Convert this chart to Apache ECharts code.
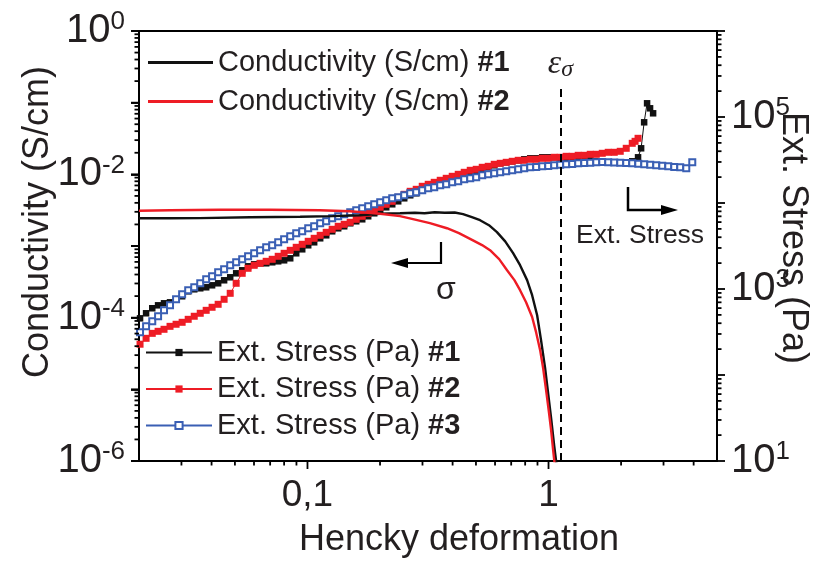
<!DOCTYPE html>
<html>
<head>
<meta charset="utf-8">
<script src="https://cdn.jsdelivr.net/npm/echarts@6/dist/echarts.min.js"></script>
<style>
  html, body { margin: 0; padding: 0; background: #fff; }
  #chart { width: 837px; height: 563px; }
</style>
</head>
<body>
<div id="chart"></div>
<script>
// ---- Axis ranges ----
const X_MIN = 0.02, X_MAX = 5;          // Hencky deformation (log)
const C_MIN = 1e-6, C_MAX = 1;          // Conductivity, S/cm (log)
const S_MIN = 10, S_MAX = 1e6;          // Extensional stress, Pa (log)

// ---- Conductivity #1 ----
const condStrain1 = [0.020, 0.0269, 0.0358, 0.0578, 0.0932, 0.127, 0.165, 0.200, 0.242, 0.279,
  0.306, 0.337, 0.371, 0.408, 0.442, 0.481, 0.520, 0.566, 0.611, 0.661,
  0.713, 0.762, 0.815, 0.855, 0.897, 0.931, 0.968, 0.995, 1.025, 1.055, 1.075, 1.096];
const condValues1 = [2.44e-3, 2.44e-3, 2.45e-3, 2.52e-3, 2.56e-3, 2.61e-3, 2.69e-3, 2.82e-3, 2.87e-3, 2.91e-3,
  2.87e-3, 2.96e-3, 2.91e-3, 2.93e-3, 2.78e-3, 2.52e-3, 2.29e-3, 1.95e-3, 1.56e-3, 1.16e-3,
  7.95e-4, 5.40e-4, 3.34e-4, 2.06e-4, 1.08e-4, 4.85e-5, 1.97e-5, 9.14e-6, 3.97e-6, 1.67e-6, 1.0e-6, 6.4e-7];

// ---- Conductivity #2 ----
const condStrain2 = [0.020, 0.0269, 0.0434, 0.0698, 0.1125, 0.150, 0.200, 0.242, 0.274, 0.322,
  0.379, 0.425, 0.486, 0.530, 0.572, 0.624, 0.673, 0.722, 0.762, 0.807,
  0.855, 0.888, 0.923, 0.950, 0.977, 1.005, 1.025, 1.045, 1.065];
const condValues2 = [3.11e-3, 3.16e-3, 3.21e-3, 3.21e-3, 3.16e-3, 3.06e-3, 2.82e-3, 2.61e-3, 2.37e-3, 2.08e-3,
  1.77e-3, 1.51e-3, 1.20e-3, 1.03e-3, 8.73e-4, 6.55e-4, 4.59e-4, 3.34e-4, 2.42e-4, 1.64e-4,
  1.02e-4, 6.28e-5, 3.52e-5, 1.97e-5, 9.75e-6, 4.66e-6, 2.70e-6, 1.42e-6, 7.9e-7];

// ---- Stress measurements: shared strain sampling ----
const stressStrain = [0.0202, 0.0214, 0.0227, 0.0240, 0.0254, 0.0269, 0.0285, 0.0302, 0.0320, 0.0339,
  0.0359, 0.0380, 0.0402, 0.0426, 0.0451, 0.0478, 0.0506, 0.0536, 0.0567, 0.0601,
  0.0636, 0.0674, 0.0714, 0.0756, 0.0800, 0.0848, 0.0898, 0.0951, 0.1007, 0.1066,
  0.1129, 0.1196, 0.1266, 0.1341, 0.1420, 0.1504, 0.1593, 0.1687, 0.1786, 0.1892,
  0.2003, 0.2122, 0.2247, 0.2379, 0.2520, 0.2668, 0.2826, 0.2993, 0.3169, 0.3356,
  0.3554, 0.3764, 0.3986, 0.4221, 0.4470, 0.4734, 0.5013, 0.5309, 0.5622, 0.5954,
  0.6305, 0.6677, 0.7071, 0.7488, 0.7930, 0.8398, 0.8893, 0.9418, 0.9973, 1.056,
  1.118, 1.184, 1.254, 1.328, 1.407, 1.490, 1.578, 1.671, 1.769, 1.874,
  1.984, 2.101, 2.225, 2.357, 2.496, 2.643, 2.799, 2.964, 3.139, 3.324,
  3.520, 3.728, 3.948];

// Ext. Stress #1 (Pa)
const stress1 = [456, 522, 597, 646, 682, 700, 759, 823, 940, 992,
  1019, 1047, 1104, 1165, 1263, 1368, 1522, 1650, 1837, 1937,
  1990, 1990, 2044, 2099, 2156, 2275, 2601, 2894, 3222, 3492,
  3886, 4210, 4687, 5079, 5358, 5807, 6127, 6464, 7006, 7590,
  8226, 8913, 9658, 10460, 11340, 12290, 12970, 14050, 14830, 16060,
  16950, 17880, 18860, 19900, 20990, 22140, 23370, 24650, 26010, 27440,
  28950, 29740, 30540, 31370, 32230, 33090, 33090, 33990, 33990, 33990,
  33090, 33090, 32230, 32230, 31370, 31370, 30540, 30540, 29740, 29740,
  29740, 29740, 30540];
const stress1TailStrain = [2.352, 2.422, 2.493, 2.564, 2.638, 2.716];
const stress1Tail = [33990, 43250, 86780, 144300, 126200, 110400];

// Ext. Stress #2 (Pa)
const stress2 = [228, 267, 305, 322, 340, 368, 389, 410, 444, 482,
  522, 565, 613, 664, 759, 891, 1165, 1522, 1741, 1886,
  1990, 2099, 2215, 2400, 2601, 2818, 3054, 3310, 3587, 3886,
  4210, 4563, 4945, 5358, 5653, 5965, 6464, 7006, 7590, 8226,
  8913, 9658, 10460, 11650, 12620, 13680, 14430, 15640, 16500, 17400,
  18370, 19370, 20440, 21560, 22750, 24000, 24650, 26010, 26710, 28180,
  28950, 29740, 30540, 31370, 31370, 32230, 32230, 33090, 33090, 33990,
  33990, 34910, 34910, 35860, 35860, 36840, 36840, 37840, 38870, 38870,
  39920, 43250, 49440];
const stress2TailStrain = [2.286, 2.352];
const stress2Tail = [52160, 56530];

// Ext. Stress #3 (Pa)
const stress3 = [314, 368, 421, 482, 565, 646, 759, 868, 966, 1047,
  1165, 1297, 1405, 1564, 1695, 1886, 2044, 2215, 2400, 2601,
  2818, 3054, 3222, 3492, 3784, 4100, 4443, 4687, 5079, 5358,
  5807, 6127, 6641, 7006, 7391, 7797, 8226, 8678, 9155, 9658,
  10190, 10750, 11340, 11650, 12290, 12970, 13320, 14050, 14830, 15220,
  16060, 16500, 17400, 17880, 18860, 19370, 19900, 20990, 21560, 22140,
  22750, 23370, 24000, 24650, 25320, 26010, 26300, 26710, 27000, 27440,
  27800, 28180, 28500, 28950, 29200, 29400, 29740, 29900, 29740, 29600,
  29400, 29100, 28950, 28600, 28180, 27900, 27440, 27100, 26710, 26300,
  26010, 25320, 29740];

// Marker line: strain at which the conductivity vanishes
const epsSigma = 1.12;
const epsSigmaTop = 0.175;

// Tick label text
const xTickLabels = { '-1': '0,1', '0': '1' };

// ---- Styling ----
const FONT = "'Liberation Sans', Arial, Helvetica, sans-serif";
const SERIF = "'Liberation Serif', 'Times New Roman', serif";
const INK = '#231f20';
const BLACK = '#111111';
const RED = '#ee1c25';
const BLUE = '#3a5fb4';

function zip(xs, ys) { return ys.map((y, i) => [xs[i], y]); }

function decadeExp(v) {
  const l = Math.log10(v), e = Math.round(l);
  return Math.abs(l - e) < 1e-6 ? e : null;
}

// log-axis tick positions: majors at each decade, minors at 2..9 × decade
function logTicks(lo, hi) {
  const major = [], minor = [];
  for (let e = Math.floor(Math.log10(lo)); e <= Math.ceil(Math.log10(hi)); e++) {
    const base = Math.pow(10, e);
    if (base >= lo * 0.999 && base <= hi * 1.001) major.push(base);
    for (let k = 2; k <= 9; k++) {
      const v = k * base;
      if (v > lo * 1.0001 && v < hi * 0.9999) minor.push(v);
    }
  }
  return { major, minor };
}

const supRich = {
  b: { fontSize: 40, fontFamily: FONT, color: INK, lineHeight: 44 },
  s: { fontSize: 26, fontFamily: FONT, color: INK, lineHeight: 26, verticalAlign: 'top' }
};

const legendFormatter = function (name) {
  const i = name.lastIndexOf(' #');
  return '{n|' + name.slice(0, i + 1) + '}{h|' + name.slice(i + 1) + '}';
};
const legendRich = {
  n: { fontSize: 29, fontFamily: FONT, color: INK, lineHeight: 30 },
  h: { fontSize: 29, fontFamily: FONT, color: INK, fontWeight: 'bold', lineHeight: 30 }
};

const chart = echarts.init(document.getElementById('chart'), null, { renderer: 'canvas' });

chart.setOption({
  animation: false,
  backgroundColor: '#ffffff',
  grid: {
    left: 139, right: 120, top: 31, bottom: 102,
    containLabel: false, outerBoundsMode: 'none',
    show: true, borderColor: '#000', borderWidth: 2, backgroundColor: 'transparent'
  },
  legend: [
    {
      left: 148, top: 48, padding: 0, orient: 'vertical',
      itemWidth: 65, itemHeight: 3, itemGap: 10,
      selectedMode: false,
      data: [
        { name: 'Conductivity (S/cm) #1', icon: 'rect' },
        { name: 'Conductivity (S/cm) #2', icon: 'rect' }
      ],
      formatter: legendFormatter,
      textStyle: { rich: legendRich }
    },
    {
      left: 145, top: 338, padding: 0, orient: 'vertical',
      itemWidth: 66, itemHeight: 9, itemGap: 7.5,
      selectedMode: false,
      data: ['Ext. Stress (Pa) #1', 'Ext. Stress (Pa) #2', 'Ext. Stress (Pa) #3'],
      formatter: legendFormatter,
      textStyle: { rich: legendRich }
    }
  ],
  xAxis: {
    type: 'log', logBase: 10, min: X_MIN, max: X_MAX,
    axisLine: { show: true, lineStyle: { color: '#000', width: 2 } },
    axisTick: { show: false },
    splitLine: { show: false },
    minorTick: { show: false },
    axisLabel: {
      margin: 16, fontSize: 37, fontFamily: FONT, color: INK,
      showMinLabel: true, showMaxLabel: true,
      formatter: function (v) {
        const e = decadeExp(v);
        return e !== null && xTickLabels[e] !== undefined ? xTickLabels[e] : '';
      }
    }
  },
  yAxis: [
    {
      type: 'log', logBase: 10, min: C_MIN, max: C_MAX, position: 'left',
      axisLine: { show: true, lineStyle: { color: '#000', width: 2 } },
      axisTick: { show: true, inside: false, length: 8, lineStyle: { color: '#000', width: 1.8 } },
      splitLine: { show: false },
      axisLabel: {
        margin: 14,
        formatter: function (v) {
          const e = decadeExp(v);
          return (e !== null && e % 2 === 0) ? '{b|10}{s|' + e + '}' : '';
        },
        rich: supRich
      }
    },
    {
      type: 'log', logBase: 10, min: S_MIN, max: S_MAX, position: 'right',
      axisLine: { show: true, lineStyle: { color: '#000', width: 2 } },
      axisTick: { show: false },
      splitLine: { show: false },
      axisLabel: {
        margin: 14,
        formatter: function (v) {
          const e = decadeExp(v);
          return (e !== null && Math.abs(e % 2) === 1) ? '{b|10}{s|' + e + '}' : '';
        },
        rich: supRich
      }
    },
    {
      // plain copy of the conductivity scale, used to place its tick marks
      type: 'log', logBase: 10, min: C_MIN, max: C_MAX, position: 'left', show: false
    }
  ],
  series: [
    {
      name: 'Ext. Stress (Pa) #1', type: 'line', yAxisIndex: 1,
      data: zip(stressStrain, stress1).concat(zip(stress1TailStrain, stress1Tail)),
      symbol: 'rect', symbolSize: 6.5, showAllSymbol: true,
      itemStyle: { color: BLACK },
      lineStyle: { color: BLACK, width: 1 }, z: 2
    },
    {
      name: 'Ext. Stress (Pa) #2', type: 'line', yAxisIndex: 1,
      data: zip(stressStrain, stress2).concat(zip(stress2TailStrain, stress2Tail)),
      symbol: 'rect', symbolSize: 7, showAllSymbol: true,
      itemStyle: { color: RED },
      lineStyle: { color: RED, width: 1 }, z: 3
    },
    {
      name: 'Ext. Stress (Pa) #3', type: 'line', yAxisIndex: 1,
      data: zip(stressStrain, stress3),
      symbol: 'emptyRect', symbolSize: 6, showAllSymbol: true,
      itemStyle: { color: BLUE, borderWidth: 1.3 },
      lineStyle: { color: BLUE, width: 1 }, z: 4
    },
    {
      name: 'Conductivity (S/cm) #1', type: 'line', yAxisIndex: 0,
      data: zip(condStrain1, condValues1),
      showSymbol: false, symbol: 'none',
      itemStyle: { color: BLACK },
      lineStyle: { color: BLACK, width: 2.4 }, z: 6,
      markLine: {
        silent: true, symbol: 'none', animation: false,
        lineStyle: { color: '#000', width: 2, type: [8, 5] },
        label: {
          show: true, position: 'end', distance: 4,
          formatter: '{e|ε}{s|σ}',
          rich: {
            e: { fontSize: 34, fontStyle: 'italic', fontFamily: SERIF, color: INK, lineHeight: 34 },
            s: { fontSize: 24, fontStyle: 'italic', fontFamily: SERIF, color: INK, lineHeight: 22, verticalAlign: 'bottom' }
          }
        },
        data: [[{ coord: [epsSigma, C_MIN] }, { coord: [epsSigma, epsSigmaTop] }]]
      }
    },
    {
      name: 'Conductivity (S/cm) #2', type: 'line', yAxisIndex: 0,
      data: zip(condStrain2, condValues2),
      showSymbol: false, symbol: 'none',
      itemStyle: { color: RED },
      lineStyle: { color: RED, width: 2.4 }, z: 6
    }
  ]
});

// ---- Axis tick marks (positions from the axes' own scales) ----
function px(finder, v) {
  try {
    const r = chart.convertToPixel(finder, v);
    return (typeof r === 'number' && isFinite(r)) ? r : NaN;
  } catch (e) { return NaN; }
}
function condY(v) {
  let y = px({ yAxisIndex: 2 }, v);
  if (!isFinite(y)) y = px({ yAxisIndex: 0 }, v);
  return y;
}
const xLeft = px({ xAxisIndex: 0 }, X_MIN);
const xRight = px({ xAxisIndex: 0 }, X_MAX);
const yBottom = condY(C_MIN);

const tickGraphics = [];
function pushTick(shape) {
  if ([shape.x1, shape.y1, shape.x2, shape.y2].every(isFinite)) {
    tickGraphics.push({ type: 'line', z: 20, silent: true, shape: shape,
      style: { stroke: '#000', lineWidth: 1.8 } });
  }
}
function addTicks(kind, ticks) {
  const put = (v, len) => {
    if (kind === 'left') {
      const y = condY(v);
      pushTick({ x1: xLeft - len, y1: y, x2: xLeft, y2: y });
    } else if (kind === 'right') {
      const y = px({ yAxisIndex: 1 }, v);
      pushTick({ x1: xRight, y1: y, x2: xRight + len, y2: y });
    } else {
      const x = px({ xAxisIndex: 0 }, v);
      pushTick({ x1: x, y1: yBottom, x2: x, y2: yBottom + len });
    }
  };
  ticks.major.forEach(v => put(v, 8));
  ticks.minor.forEach(v => put(v, 4.5));
}
addTicks('left', logTicks(C_MIN, C_MAX));
addTicks('right', logTicks(S_MIN, S_MAX));
addTicks('bottom', logTicks(X_MIN, X_MAX));

// ---- Axis titles and annotation arrows ----
const titleStyle = { fontSize: 36, fontFamily: FONT, fill: INK, align: 'center', verticalAlign: 'middle' };
const annotations = [
  { type: 'text', z: 10, x: 38, y: 222, rotation: Math.PI / 2,
    style: Object.assign({ text: 'Conductivity (S/cm)' }, titleStyle) },
  { type: 'text', z: 10, x: 793, y: 238, rotation: -Math.PI / 2,
    style: Object.assign({ text: 'Ext. Stress (Pa)' }, titleStyle) },
  { type: 'text', z: 10, x: 459, y: 540,
    style: Object.assign({ text: 'Hencky deformation' }, titleStyle) },
  // arrow pointing to the conductivity axis
  { type: 'polyline', z: 10, shape: { points: [[441, 242], [441, 263], [407, 263]] },
    style: { stroke: '#000', lineWidth: 2.2, fill: null } },
  { type: 'polygon', z: 10, shape: { points: [[391, 263], [408, 258], [408, 268]] },
    style: { fill: '#000' } },
  { type: 'text', z: 10, left: 436, top: 274,
    style: { text: 'σ', fontSize: 32, fontFamily: FONT, fill: INK } },
  // arrow pointing to the stress axis
  { type: 'polyline', z: 10, shape: { points: [[628, 187], [628, 210], [662, 210]] },
    style: { stroke: '#000', lineWidth: 2.5, fill: null } },
  { type: 'polygon', z: 10, shape: { points: [[678, 210], [661, 205], [661, 215]] },
    style: { fill: '#000' } },
  { type: 'text', z: 10, left: 576, top: 222,
    style: { text: 'Ext. Stress', fontSize: 26.5, fontFamily: FONT, fill: INK } }
];

chart.setOption({ graphic: annotations.concat(tickGraphics) });
</script>
</body>
</html>
